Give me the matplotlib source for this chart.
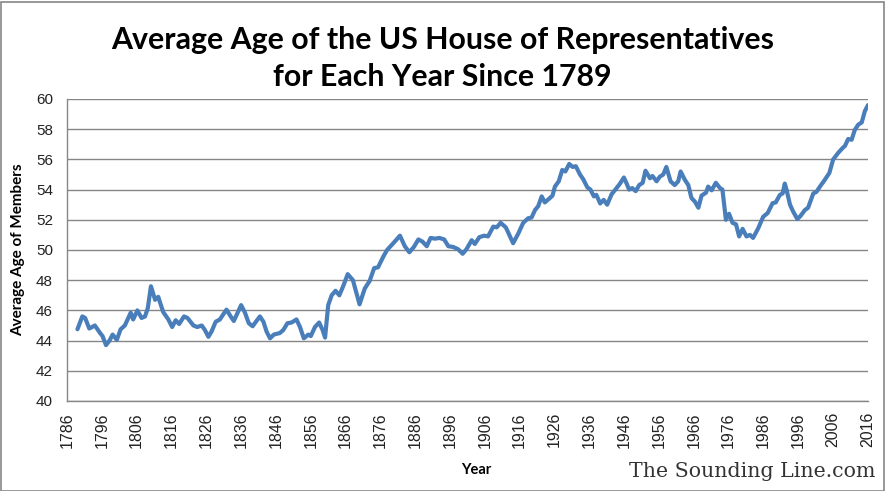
import matplotlib
matplotlib.use("Agg")
import matplotlib.pyplot as plt
from matplotlib.patches import Rectangle

years = [1789.0, 1790.4, 1791.2, 1792.4, 1794.0, 1795.5, 1796.2, 1797.2, 1798.2, 1799.1,
         1800.3, 1801.4, 1802.6, 1803.6, 1804.3, 1805.0, 1806.2, 1807.4, 1808.4, 1809.2,
         1810.1, 1811.3, 1812.2, 1813.6, 1815.1, 1816.2, 1817.2, 1818.2, 1819.6, 1820.6,
         1822.3, 1823.4, 1824.7, 1825.6, 1826.6, 1827.5, 1828.7, 1829.9, 1830.9, 1831.8,
         1833.0, 1833.9, 1835.0, 1836.0, 1837.1, 1838.2, 1839.3, 1840.4, 1841.4, 1842.4,
         1843.3, 1844.3, 1845.4, 1847.1, 1848.1, 1849.3, 1850.5, 1851.9, 1852.9, 1854.0,
         1855.3, 1856.0, 1857.2, 1858.4, 1859.4, 1860.1, 1861.0, 1862.0, 1863.1, 1864.2,
         1865.3, 1866.6, 1868.1, 1870.0, 1871.5, 1872.9, 1874.2, 1875.3, 1876.8, 1877.9,
         1879.7, 1881.6, 1883.0, 1884.3, 1885.6, 1886.9, 1888.1, 1889.3, 1890.4, 1891.7,
         1892.9, 1894.3, 1895.5, 1896.9, 1898.3, 1899.6, 1900.7, 1902.2, 1903.1, 1904.4,
         1905.8, 1906.9, 1908.4, 1909.4, 1910.5, 1912.0, 1913.2, 1914.1, 1915.6, 1917.0,
         1918.4, 1919.4, 1920.4, 1921.3, 1922.3, 1923.2, 1924.7, 1925.4, 1926.1, 1927.2,
         1928.2, 1929.1, 1930.2, 1931.2, 1932.1, 1933.3, 1934.2, 1935.4, 1936.3, 1937.3,
         1938.0, 1939.1, 1940.1, 1941.1, 1942.4, 1943.8, 1944.8, 1945.9, 1946.7, 1947.4,
         1948.3, 1949.3, 1950.3, 1951.3, 1952.1, 1953.4, 1954.1, 1955.3, 1956.2, 1957.2,
         1958.1, 1959.3, 1960.5, 1961.5, 1962.2, 1963.4, 1964.4, 1965.3, 1966.3, 1967.3,
         1968.2, 1969.5, 1970.1, 1971.1, 1972.3, 1973.5, 1974.2, 1975.2, 1976.1, 1977.1,
         1978.1, 1979.0, 1980.0, 1981.1, 1982.1, 1983.0, 1984.5, 1985.9, 1987.2, 1988.6,
         1989.5, 1990.7, 1991.5, 1992.1, 1992.6, 1993.6, 1994.5, 1995.7, 1996.6, 1997.9,
         1998.8, 2000.3, 2001.2, 2002.2, 2003.3, 2004.9, 2006.0, 2007.5, 2008.7, 2009.4,
         2010.3, 2011.3, 2012.2, 2013.2, 2014.2, 2015.1, 2016.0]

avg_age = [44.75, 45.6, 45.5, 44.8, 45.0, 44.5, 44.3, 43.7, 44.0, 44.4,
           44.05, 44.75, 45.0, 45.5, 45.85, 45.4, 46.0, 45.5, 45.6, 46.15,
           47.6, 46.7, 46.9, 45.9, 45.4, 44.9, 45.35, 45.1, 45.6, 45.5,
           45.0, 44.9, 45.0, 44.7, 44.25, 44.6, 45.25, 45.4, 45.75, 46.05,
           45.6, 45.3, 45.85, 46.35, 45.85, 45.15, 44.95, 45.3, 45.6, 45.25,
           44.6, 44.15, 44.4, 44.5, 44.7, 45.15, 45.2, 45.4, 44.9, 44.15,
           44.4, 44.3, 44.9, 45.2, 44.7, 44.2, 46.35, 47.0, 47.3, 47.0,
           47.6, 48.4, 48.0, 46.4, 47.45, 47.95, 48.8, 48.85, 49.55, 50.0,
           50.45, 50.95, 50.25, 49.85, 50.2, 50.7, 50.55, 50.25, 50.8, 50.75,
           50.8, 50.7, 50.25, 50.2, 50.05, 49.75, 50.05, 50.65, 50.4, 50.85,
           50.95, 50.9, 51.55, 51.5, 51.8, 51.5, 50.9, 50.45, 51.1, 51.8,
           52.1, 52.15, 52.65, 52.9, 53.55, 53.15, 53.45, 53.6, 54.2, 54.55,
           55.3, 55.2, 55.7, 55.5, 55.55, 55.0, 54.7, 54.15, 54.0, 53.55,
           53.65, 53.08, 53.32, 53.0, 53.7, 54.1, 54.4, 54.8, 54.4, 54.0,
           54.1, 53.9, 54.3, 54.45, 55.25, 54.75, 54.9, 54.55, 54.85, 55.0,
           55.5, 54.55, 54.3, 54.55, 55.2, 54.65, 54.3, 53.45, 53.2, 52.8,
           53.6, 53.8, 54.2, 53.95, 54.45, 54.1, 54.0, 52.0, 52.4, 51.8,
           51.7, 50.9, 51.4, 50.9, 51.0, 50.8, 51.45, 52.2, 52.45, 53.1,
           53.15, 53.65, 53.75, 54.4, 54.0, 53.0, 52.55, 52.05, 52.25, 52.65,
           52.8, 53.75, 53.85, 54.2, 54.55, 55.1, 56.0, 56.45, 56.75, 56.9,
           57.35, 57.3, 57.95, 58.3, 58.45, 59.2, 59.6]

x_ticks = list(range(1786, 2017, 10))
y_ticks = list(range(40, 61, 2))

title = "Average Age of the US House of Representatives\nfor Each Year Since 1789"

fig = plt.figure(figsize=(8.85, 4.91), dpi=100)
ax = fig.add_axes([67/885, 90/491, (868-67)/885, (401-99)/491])

ax.plot(years, avg_age, color="#4a7ebb", lw=3.0, solid_joinstyle="round", solid_capstyle="round")

ax.set_xlim(1786, 2016)
ax.set_ylim(40, 60)
ax.set_yticks(y_ticks)
ax.set_xticks(x_ticks)
ax.set_xticklabels([str(t) for t in x_ticks], rotation=90, fontsize=11.5,
                   family="Liberation Sans", color="#222222")
ax.set_yticklabels([str(t) for t in y_ticks], fontsize=11, family="Liberation Sans",
                   color="#222222")
ax.tick_params(axis="both", length=0)
ax.tick_params(axis="y", pad=10)
ax.tick_params(axis="x", pad=8)

ax.grid(axis="y", color="#868686", lw=1)
ax.set_axisbelow(True)
for s in ["top", "right"]:
    ax.spines[s].set_visible(False)
for s in ["left", "bottom"]:
    ax.spines[s].set_color("#868686")
    ax.spines[s].set_linewidth(1)

fig.text(0.5, 1 - 58.5/491, title, ha="center", va="center", fontsize=21.8,
         fontweight="bold", family="Lato", linespacing=1.4, color="#000000")
fig.text(18/885, 1 - 250/491, "Average Age of Members", rotation=90, ha="center",
         va="center", fontsize=11, fontweight="bold", family="Lato")
fig.text(476/885, 1 - 470/491, "Year", ha="center", va="center", fontsize=10.5,
         fontweight="bold", family="Lato")
fig.text(875/885, 1 - 477/491, "The Sounding Line.com", ha="right", va="baseline",
         fontsize=14.8, family="DejaVu Serif", color="#333333")

fig.patches.append(Rectangle((0.5/885, 0.5/491), 883/885, 489/491, transform=fig.transFigure,
                             fill=False, edgecolor="#868686", lw=1.2))

fig.savefig("out.png", dpi=100)
